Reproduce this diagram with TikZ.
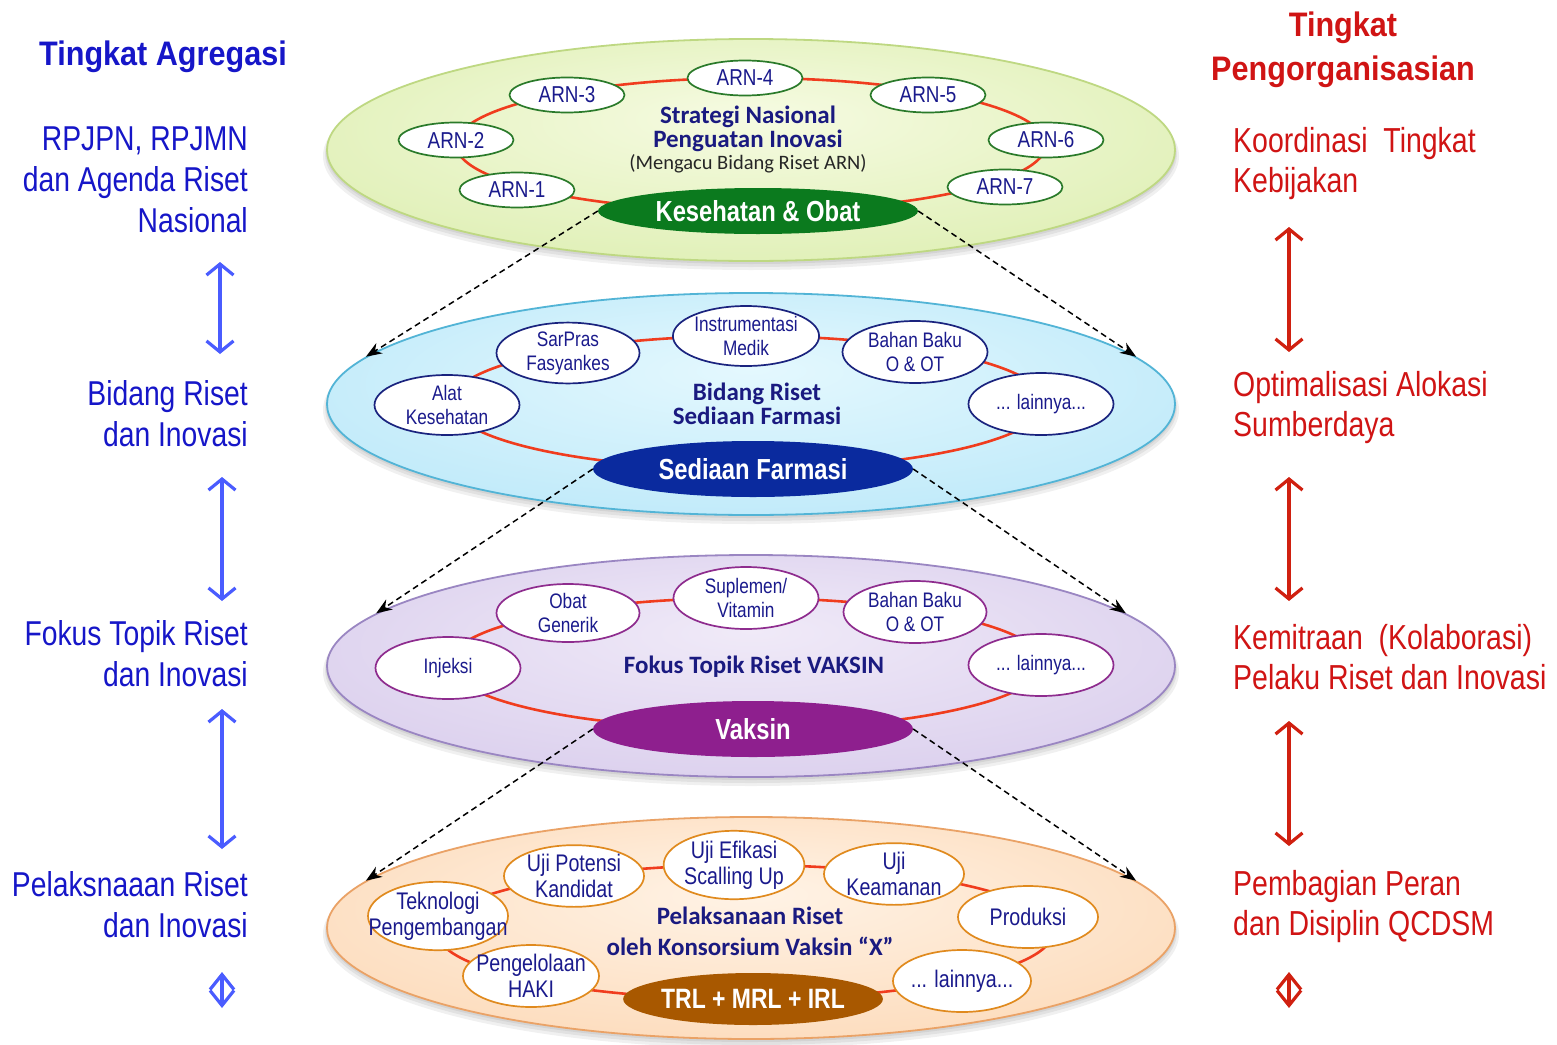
\documentclass[tikz,border=0pt]{standalone}
\usepackage{fontspec}
\setmainfont{Liberation Sans}
\newfontfamily\narrowfont[FakeStretch=0.82]{Liberation Sans}
\newfontfamily\headfont[FakeStretch=0.9]{Liberation Sans}
\newfontfamily\calfont{Carlito}
\usetikzlibrary{shapes.geometric,arrows.meta}

% palette
\definecolor{sideBlue}{HTML}{1616C8}
\definecolor{sideRed}{HTML}{D01414}
\definecolor{arrBlue}{HTML}{4A5CFF}
\definecolor{arrRed}{HTML}{D02010}
\definecolor{nodeNavy}{HTML}{1A1A8C}
\definecolor{titleNavy}{HTML}{1A1A80}
\definecolor{ringRed}{HTML}{F03C1E}
\definecolor{arnGreen}{HTML}{2A7A2A}
\definecolor{coreGreen}{HTML}{0B7A1E}
\definecolor{pillBlue}{HTML}{1A237E}
\definecolor{coreBlue}{HTML}{0A2A9E}
\definecolor{pillPurple}{HTML}{8E2C8E}
\definecolor{corePurple}{HTML}{8E1F8E}
\definecolor{pillOrange}{HTML}{E08A1E}
\definecolor{coreBrown}{HTML}{A85800}
\definecolor{layGreenBd}{HTML}{BED882}
\definecolor{layBlueBd}{HTML}{52B4D6}
\definecolor{layPurpleBd}{HTML}{9A86C2}
\definecolor{layOrangeBd}{HTML}{EAA266}
\definecolor{layGreenIn}{HTML}{F6FBE2}
\definecolor{layGreenOut}{HTML}{D0E898}
\definecolor{layBlueIn}{HTML}{E4F8FE}
\definecolor{layBlueOut}{HTML}{A6E0F6}
\definecolor{layPurpleIn}{HTML}{F0EAF8}
\definecolor{layPurpleOut}{HTML}{CDBEE6}
\definecolor{layOrangeIn}{HTML}{FFF3E6}
\definecolor{layOrangeOut}{HTML}{FBCCA0}

\pgfdeclareradialshading{shGreen}{\pgfpoint{0bp}{8bp}}{color(0bp)=(layGreenIn); color(52bp)=(layGreenOut)}
\pgfdeclareradialshading{shBlue}{\pgfpoint{0bp}{8bp}}{color(0bp)=(layBlueIn); color(52bp)=(layBlueOut)}
\pgfdeclareradialshading{shPurple}{\pgfpoint{0bp}{8bp}}{color(0bp)=(layPurpleIn); color(52bp)=(layPurpleOut)}
\pgfdeclareradialshading{shOrange}{\pgfpoint{0bp}{8bp}}{color(0bp)=(layOrangeIn); color(52bp)=(layOrangeOut)}

\tikzset{
  layer/.style={ellipse, minimum width=848, minimum height=222, inner sep=0pt, line width=1.8pt},
  ring/.style={draw=ringRed, line width=2.6pt},
  pill/.style={ellipse, fill=white, line width=1.7pt, inner sep=0pt, align=center,
    text=nodeNavy, font=\narrowfont\fontsize{21}{24}\selectfont},
  sz/.style 2 args={minimum width=#1, minimum height=#2},
  arnpill/.style={pill, draw=arnGreen, sz={115}{35}, font=\narrowfont\fontsize{23}{25}\selectfont},
  bluepill/.style={pill, draw=pillBlue},
  purplepill/.style={pill, draw=pillPurple},
  orangepill/.style={pill, draw=pillOrange, font=\narrowfont\fontsize{24}{26}\selectfont},
  core/.style={ellipse, inner sep=0pt, text=white, font=\narrowfont\bfseries\fontsize{29}{31}\selectfont},
  lvltitle/.style={align=center, text=titleNavy, font=\calfont\bfseries\fontsize{25}{25}\selectfont},
  dasharrow/.style={black, line width=1.5pt, dash pattern=on 6pt off 4pt,
    -{Stealth[length=16pt,width=12pt]}},
  sidearrow/.style={line width=3.2pt, {Straight Barb[length=11pt,width=27pt]}-{Straight Barb[length=11pt,width=27pt]}},
  sidediamond/.style={line width=3.2pt, {Straight Barb[length=15pt,width=24pt]}-{Straight Barb[length=15pt,width=24pt]}},
  lefttext/.style={anchor=north east, align=right, inner sep=0pt, text=sideBlue, font=\narrowfont\fontsize{34.5}{41}\selectfont},
  righttext/.style={anchor=north west, align=left, inner sep=0pt, text=sideRed, font=\narrowfont\fontsize{34.7}{40}\selectfont},
  shadowring/.style={fill=black, opacity=0.06},
}

\begin{document}
\begin{tikzpicture}[x=1pt,y=-1pt]
\useasboundingbox (0,0) rectangle (1557,1044);
\fill[white] (0,0) rectangle (1557,1044);

% ---------- soft shadows under the four layers ----------
\foreach \cy in {150,404,666,928}{
  \fill[shadowring] (751,\cy+6) ellipse [x radius=428pt, y radius=114pt];
  \fill[shadowring] (751,\cy+4) ellipse [x radius=426pt, y radius=113pt];
  \fill[shadowring] (751,\cy+2) ellipse [x radius=425pt, y radius=112pt];
}

% ---------- layer 1: national strategy ----------
\node[layer, draw=layGreenBd, shading=shGreen] (lay1) at (751,150) {};
\draw[ring] (751,144.5) ellipse [x radius=295pt, y radius=66.5pt];
\node[arnpill] (arn1) at (517,190) {ARN-1};
\node[arnpill] (arn2) at (456,140) {ARN-2};
\node[arnpill] (arn3) at (567,95) {ARN-3};
\node[arnpill] (arn4) at (745,78) {ARN-4};
\node[arnpill] (arn5) at (928,95) {ARN-5};
\node[arnpill] (arn6) at (1046,140) {ARN-6};
\node[arnpill] (arn7) at (1005,187) {ARN-7};
\node[lvltitle] (t1) at (748,129) {Strategi Nasional\\[-1pt]Penguatan Inovasi};
\node[text=black!85, font=\calfont\fontsize{20.5}{22}\selectfont] (t1sub) at (748,164) {(Mengacu Bidang Riset ARN)};
\node[core, fill=coreGreen, sz={320}{46}] (kes) at (758,211) {Kesehatan \& Obat};

% ---------- layer 2: research field ----------
\node[layer, draw=layBlueBd, shading=shBlue] (lay2) at (751,404) {};
\draw[ring] (748,402.5) ellipse [x radius=297pt, y radius=66.5pt];
\node[bluepill, sz={145}{60}] (alat) at (447,405) {Alat\\Kesehatan};
\node[bluepill, sz={143}{58}] (sarpras) at (568,353) {SarPras\\Fasyankes};
\node[bluepill, sz={145}{60}] (instr) at (746,336) {Instrumentasi\\Medik};
\node[bluepill, sz={145}{62}] (bahan2) at (915,352) {Bahan Baku\\O \& OT};
\node[bluepill, sz={145}{62}] (lain2) at (1041,404) {... lainnya...};
\node[lvltitle] (t2) at (757,404) {Bidang Riset\\[-1pt]Sediaan Farmasi};
\node[core, fill=coreBlue, sz={320}{56}] (sed) at (753,469) {Sediaan Farmasi};

% ---------- layer 3: research focus ----------
\node[layer, draw=layPurpleBd, shading=shPurple] (lay3) at (751,666) {};
\draw[ring] (746,663.5) ellipse [x radius=297pt, y radius=65.5pt];
\node[purplepill, sz={145}{62}] (injeksi) at (448,668) {Injeksi};
\node[purplepill, sz={143}{58}] (obat) at (568,613) {Obat\\Generik};
\node[purplepill, sz={145}{62}] (suplemen) at (746,598) {Suplemen/\\Vitamin};
\node[purplepill, sz={143}{62}] (bahan3) at (915,612) {Bahan Baku\\O \& OT};
\node[purplepill, sz={145}{62}] (lain3) at (1041,665) {... lainnya...};
\node[lvltitle] (t3) at (754,667) {Fokus Topik Riset VAKSIN};
\node[core, fill=corePurple, sz={320}{56}] (vaksin) at (753,729) {Vaksin};

% ---------- layer 4: research execution ----------
\node[layer, draw=layOrangeBd, shading=shOrange] (lay4) at (751,928) {};
\draw[ring] (745,932) ellipse [x radius=308pt, y radius=67pt];
\node[orangepill, sz={140}{62}] (tekno) at (438,916) {Teknologi\\\makebox[96pt]{Pengembangan}};
\node[orangepill, sz={140}{58}] (ujipot) at (574,876) {Uji Potensi\\Kandidat};
\node[orangepill, sz={140}{58}] (ujiefi) at (734,865) {Uji Efikasi\\Scalling Up};
\node[orangepill, sz={140}{60}] (ujikeam) at (894,874) {Uji\\Keamanan};
\node[orangepill, sz={140}{62}] (produksi) at (1028,917) {Produksi};
\node[orangepill, sz={138}{62}] (lain4) at (962,981) {\makebox[92pt]{... lainnya...}};
\node[orangepill, sz={136}{62}] (haki) at (531,976) {\makebox[92pt]{Pengelolaan}\\HAKI};
\node[lvltitle, font=\calfont\bfseries\fontsize{25}{31}\selectfont] (t4) at (750,931) {Pelaksanaan Riset\\oleh Konsorsium Vaksin “X”};
\node[core, fill=coreBrown, sz={256}{52}, font=\narrowfont\bfseries\fontsize{28}{30}\selectfont] (trl) at (753,999) {TRL + MRL + IRL};

% ---------- drill-down arrows between layers ----------
\draw[dasharrow] (kes.west) -- (lay2.173);
\draw[dasharrow] (kes.east) -- (lay2.7);
\draw[dasharrow] (sed.west) -- (lay3.172);
\draw[dasharrow] (sed.east) -- (lay3.8);
\draw[dasharrow] (vaksin.west) -- (lay4.173);
\draw[dasharrow] (vaksin.east) -- (lay4.7);

% ---------- left column: aggregation level ----------
\node[text=sideBlue, font=\headfont\bfseries\fontsize{34}{40}\selectfont, anchor=base] (aggTitle) at (163,65) {Tingkat Agregasi};
\node[lefttext] (agg1) at (248,127) {RPJPN, RPJMN\\dan Agenda Riset\\Nasional};
\node[lefttext] (agg2) at (248,380) {Bidang Riset\\dan Inovasi};
\node[lefttext] (agg3) at (248,620) {Fokus Topik Riset\\dan Inovasi};
\node[lefttext] (agg4) at (248,871) {Pelaksnaaan Riset\\dan Inovasi};

\coordinate (la1) at (220,262); \coordinate (lb1) at (220,354);
\coordinate (la2) at (222,477); \coordinate (lb2) at (222,601);
\coordinate (la3) at (222,709); \coordinate (lb3) at (222,849);
\coordinate (la4) at (222,972); \coordinate (lb4) at (222,1008);
\draw[sidearrow, draw=arrBlue] (la1) -- (lb1);
\draw[sidearrow, draw=arrBlue] (la2) -- (lb2);
\draw[sidearrow, draw=arrBlue] (la3) -- (lb3);
\draw[sidediamond, draw=arrBlue] (la4) -- (lb4);

% ---------- right column: organisation level ----------
\node[text=sideRed, font=\headfont\bfseries\fontsize{34}{44}\selectfont, align=center, anchor=north] (orgTitle) at (1343,8) {Tingkat\\Pengorganisasian};
\node[righttext] (org1) at (1233,127) {Koordinasi\ \ Tingkat\\Kebijakan};
\node[righttext] (org2) at (1233,371) {Optimalisasi Alokasi\\Sumberdaya};
\node[righttext] (org3) at (1233,624) {Kemitraan\ \ (Kolaborasi)\\Pelaku Riset dan Inovasi};
\node[righttext] (org4) at (1233,870) {Pembagian Peran\\dan Disiplin QCDSM};

\coordinate (ra1) at (1289,227); \coordinate (rb1) at (1289,352);
\coordinate (ra2) at (1289,477); \coordinate (rb2) at (1289,601);
\coordinate (ra3) at (1289,721); \coordinate (rb3) at (1289,846);
\coordinate (ra4) at (1289,972); \coordinate (rb4) at (1289,1008);
\draw[sidearrow, draw=arrRed] (ra1) -- (rb1);
\draw[sidearrow, draw=arrRed] (ra2) -- (rb2);
\draw[sidearrow, draw=arrRed] (ra3) -- (rb3);
\draw[sidediamond, draw=arrRed] (ra4) -- (rb4);
\end{tikzpicture}
\end{document}
